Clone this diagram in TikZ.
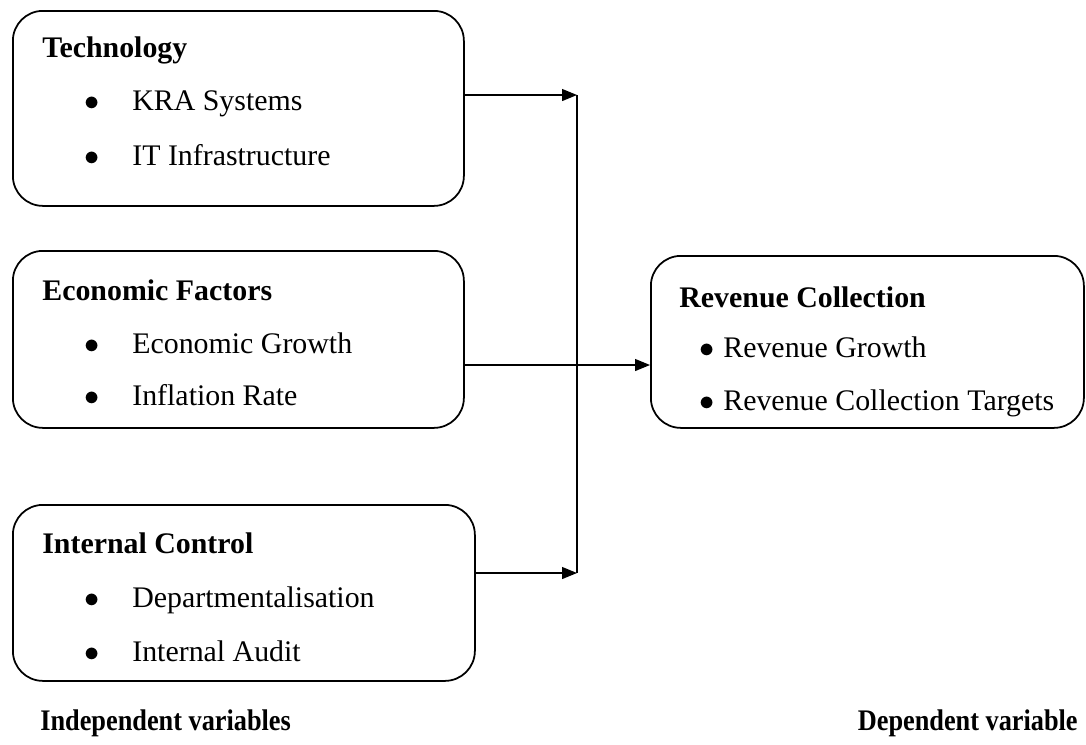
\documentclass[tikz,border=0pt]{standalone}
\usepackage{fontspec}
\setmainfont{Liberation Serif}
\usepackage{tikz}
\usetikzlibrary{arrows.meta}

\newcommand{\narrowtext}[1]{\scalebox{0.88}[1]{#1}}

\begin{document}
\begin{tikzpicture}[
		varbox/.style={draw, line width=1pt, rounded corners=0.6cm, anchor=north west},
		heading/.style={anchor=base west, inner sep=0pt, font=\fontsize{17}{20}\selectfont\bfseries},
		item/.style={anchor=base west, inner sep=0pt, font=\fontsize{17}{20}\selectfont},
		dot/.style={anchor=base, inner sep=0pt, font=\fontsize{17}{20}\selectfont},
		link/.style={line width=0.7pt, -{Triangle[length=3mm,width=2.4mm]}}]
		\useasboundingbox (0,0) rectangle (21.72,-14.88);
		
		% independent variables
		\node at (0.24,-0.2) [varbox, minimum width=9.02cm, minimum height=3.9cm] (tech) {};
		\node at (0.84,-1.14) [heading] (techhead) {Technology};
		\node at (1.84,-2.2) [dot] (techdot1) {$\bullet$};
		\node at (2.64,-2.2) [item] (techitem1) {KRA Systems};
		\node at (1.84,-3.3) [dot] (techdot2) {$\bullet$};
		\node at (2.64,-3.3) [item] (techitem2) {IT Infrastructure};
		
		\node at (0.24,-5.0) [varbox, minimum width=9.02cm, minimum height=3.54cm] (econ) {};
		\node at (0.84,-6.0) [heading] (econhead) {Economic Factors};
		\node at (1.84,-7.06) [dot] (econdot1) {$\bullet$};
		\node at (2.64,-7.06) [item] (econitem1) {Economic Growth};
		\node at (1.84,-8.1) [dot] (econdot2) {$\bullet$};
		\node at (2.64,-8.1) [item] (econitem2) {Inflation Rate};
		
		\node at (0.24,-10.08) [varbox, minimum width=9.24cm, minimum height=3.52cm] (ctrl) {};
		\node at (0.84,-11.06) [heading] (ctrlhead) {Internal Control};
		\node at (1.84,-12.14) [dot] (ctrldot1) {$\bullet$};
		\node at (2.64,-12.14) [item] (ctrlitem1) {Departmentalisation};
		\node at (1.84,-13.22) [dot] (ctrldot2) {$\bullet$};
		\node at (2.64,-13.22) [item] (ctrlitem2) {Internal Audit};
		
		% dependent variable
		\node at (13.0,-5.1) [varbox, minimum width=8.66cm, minimum height=3.44cm] (rev) {};
		\node at (13.58,-6.14) [heading] (revhead) {Revenue Collection};
		\node at (14.14,-7.14) [dot] (revdot1) {$\bullet$};
		\node at (14.46,-7.14) [item] (revitem1) {Revenue Growth};
		\node at (14.14,-8.2) [dot] (revdot2) {$\bullet$};
		\node at (14.46,-8.2) [item] (revitem2) {Revenue Collection Targets};
		
		% junction
		\coordinate (jtop) at (11.54,-1.9);
		\coordinate (jmid) at (11.54,-7.3);
		\coordinate (jbot) at (11.54,-11.46);
		
		\draw [link] (tech.east |- jtop) -- (jtop);
		\draw [link] (ctrl.east |- jbot) -- (jbot);
		\draw [link] (econ.east |- jmid) -- (rev.west |- jmid);
		\draw [line width=1pt] (jtop) -- (jbot);
		
		\node at (0.8,-14.6) [heading] (indep) {\narrowtext{Independent variables}};
		\node at (21.56,-14.6) [heading, anchor=base east] (dep) {\narrowtext{Dependent variable}};
		
		\end{tikzpicture}
\end{document}
